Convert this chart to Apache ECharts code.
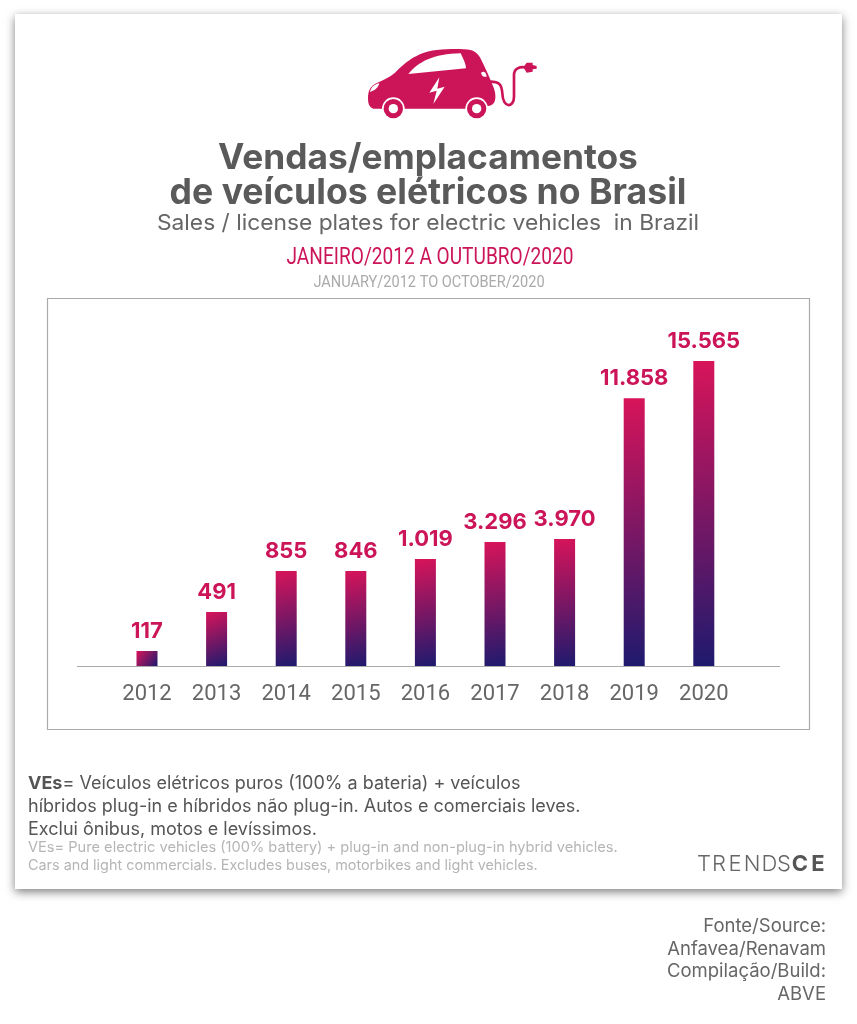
<!DOCTYPE html>
<html>
<head>
<meta charset="utf-8">
<style>
  html, body { margin: 0; padding: 0; background: #fff; }
  #chart { width: 857px; height: 1024px; }
</style>
<script src="https://cdn.jsdelivr.net/npm/echarts@6/dist/echarts.min.js"></script>
</head>
<body>
<div id="chart"></div>
<script>
var years = ['2012', '2013', '2014', '2015', '2016', '2017', '2018', '2019', '2020'];
// what the printed labels say
var salesLabels = ['117', '491', '855', '846', '1.019', '3.296', '3.970', '11.858', '15.565'];
// the bars in the original are not to scale with their labels, so these are
// the heights, in the units of the tallest bar (15.565)
var barValues = [765, 2755, 4850, 4850, 5460, 6325, 6480, 13670, 15565];

var PINK = '#cc1559';
var sansFont = 'Inter';
var narrowFont = 'Roboto';

function text(x, y, str, font, size, color, opt) {
  opt = opt || {};
  return {
    type: 'text',
    x: x,
    y: y,
    scaleX: opt.scaleX || 1,
    z: 5,
    style: {
      text: str,
      fontFamily: font,
      fontSize: size,
      fontWeight: opt.weight || 'normal',
      fill: color,
      align: opt.align || 'center',
      verticalAlign: 'middle',
      rich: opt.rich
    }
  };
}

// car icon, traced in a 3x space
var carShapes = {
  carBody: 'M100 236 C88 232 84 222 84 205 C84 182 90 168 112 158 C130 150 148 142 165 128 C195 100 225 68 290 60 C330 56 370 56 392 60 C410 64 420 80 428 98 C440 122 452 150 460 170 C468 190 468 208 462 218 C456 226 448 228 438 228 L380 236 L190 236 L128 236 Z',
  carWindow: 'M205 132 C235 95 280 72 362 70 C372 90 378 105 378 115 Z',
  carHead: 'M90 186 C92 172 105 162 118 160 C115 172 105 182 90 186 Z',
  carTail: 'M423 128 C432 122 438 125 440 140 C432 142 425 138 423 128 Z',
  carBolt: 'M298 142 L268 188 L290 182 L280 222 L314 170 L292 176 Z',
  carPlug: 'M550 112 L560 98 L578 98 L578 105 L590 108 L590 116 L578 118 L578 125 L560 128 Z',
  carCable: 'M450 155 C480 155 485 165 487 190 C488 235 522 235 522 200 L522 135 C522 115 540 110 555 112'
};
Object.keys(carShapes).forEach(function (name) {
  echarts.graphic.registerShape(name, echarts.graphic.extendPath(carShapes[name]));
});

function carPart(name, style) {
  return {
    type: name,
    x: 340,
    y: 30,
    scaleX: 1 / 3,
    scaleY: 1 / 3,
    z: 4,
    style: style
  };
}

function carWheel(cx) {
  return [
    [34, '#fff'],
    [29, PINK],
    [14, '#fff']
  ].map(function (c) {
    return {
      type: 'circle',
      x: 340,
      y: 30,
      scaleX: 1 / 3,
      scaleY: 1 / 3,
      z: 4,
      shape: { cx: cx, cy: 236, r: c[0] },
      style: { fill: c[1] }
    };
  });
}

var car = [
  carPart('carBody', { fill: PINK }),
  carPart('carWindow', { fill: '#fff' }),
  carPart('carHead', { fill: '#fff' }),
  carPart('carTail', { fill: '#fff' }),
  carPart('carBolt', { fill: '#fff' }),
  carPart('carPlug', { fill: PINK }),
  carPart('carCable', { fill: 'none', stroke: PINK, lineWidth: 8 })
].concat(carWheel(160), carWheel(410));

// logo letters are placed one by one for the wide tracking
var logoThin = [['T', 704], ['R', 719], ['E', 735], ['N', 752], ['D', 769.5], ['S', 784]];
var logoBold = [['C', 800], ['E', 818]];
var logo = logoThin.map(function (l) {
  return text(l[1], 864, l[0], sansFont, 22, '#666', { weight: 300 });
}).concat(logoBold.map(function (l) {
  return text(l[1], 864, l[0], sansFont, 22, '#555', { weight: 'bold' });
}));

var option = {
  animation: false,
  backgroundColor: '#fff',
  grid: { left: 112.2, width: 626.4, top: 361, height: 305 },
  xAxis: {
    type: 'category',
    data: years,
    axisLine: { show: false },
    axisTick: { show: false },
    axisLabel: {
      color: '#666',
      fontFamily: narrowFont,
      fontSize: 22,
      margin: 17
    }
  },
  yAxis: {
    type: 'value',
    min: 0,
    max: 15565,
    show: false
  },
  series: [
    {
      type: 'bar',
      data: barValues,
      barWidth: 21,
      itemStyle: {
        color: {
          type: 'linear',
          x: 0, y: 0, x2: 1, y2: 1,
          colorStops: [
            { offset: 0, color: '#d8145a' },
            { offset: 1, color: '#1e1a6e' }
          ]
        }
      },
      label: {
        show: true,
        position: 'top',
        distance: 9,
        color: PINK,
        fontFamily: sansFont,
        fontWeight: 'bold',
        fontSize: 22,
        formatter: function (p) { return salesLabels[p.dataIndex]; }
      },
      z: 3
    }
  ],
  graphic: [
    {
      type: 'rect',
      shape: { x: 15, y: 14, width: 827, height: 875 },
      style: { fill: '#fff', shadowBlur: 9, shadowOffsetY: 3, shadowColor: 'rgba(0,0,0,0.5)' },
      z: 0
    },
    {
      type: 'rect',
      shape: { x: 47.5, y: 298.5, width: 762, height: 431 },
      style: { fill: 'none', stroke: '#aaa', lineWidth: 1.2 },
      z: 1
    },
    {
      type: 'line',
      shape: { x1: 77, y1: 666.5, x2: 780, y2: 666.5 },
      style: { stroke: '#aaa', lineWidth: 1.2 },
      z: 1
    },
    text(428, 158, 'Vendas/emplacamentos', sansFont, 35.3, '#5a5a5a', { weight: 'bold' }),
    text(428, 193, 'de veículos elétricos no Brasil', sansFont, 35.6, '#5a5a5a', { weight: 'bold' }),
    text(428, 223, 'Sales / license plates for electric vehicles  in Brazil', sansFont, 22, '#666', { scaleX: 1.035 }),
    text(430, 258, 'JANEIRO/2012 A OUTUBRO/2020', narrowFont, 23, PINK, { scaleX: 0.83 }),
    text(429, 283, 'JANUARY/2012 TO OCTOBER/2020', narrowFont, 17, '#aaa', { scaleX: 0.856 }),
    text(28, 784, '{b|VEs}= Veículos elétricos puros (100% a bateria) + veículos', sansFont, 18, '#555', {
      align: 'left',
      rich: { b: { fontFamily: sansFont, fontSize: 18, fontWeight: 'bold', fill: '#555' } }
    }),
    text(28, 807, 'híbridos plug-in e híbridos não plug-in. Autos e comerciais leves.', sansFont, 18, '#555', { align: 'left' }),
    text(28, 830, 'Exclui ônibus, motos e levíssimos.', sansFont, 18, '#555', { align: 'left' }),
    text(28, 848, 'VEs= Pure electric vehicles (100% battery) + plug-in and non-plug-in hybrid vehicles.', sansFont, 14.6, '#b5b5b5', { align: 'left' }),
    text(28, 866, 'Cars and light commercials. Excludes buses, motorbikes and light vehicles.', sansFont, 14.4, '#b5b5b5', { align: 'left' }),
    text(826, 926, 'Fonte/Source:', sansFont, 18.5, '#666', { align: 'right' }),
    text(826, 949, 'Anfavea/Renavam', sansFont, 18.5, '#666', { align: 'right' }),
    text(826, 971, 'Compilação/Build:', sansFont, 18.5, '#666', { align: 'right' }),
    text(826, 994, 'ABVE', sansFont, 18.5, '#666', { align: 'right' })
  ].concat(car, logo)
};

echarts.init(document.getElementById('chart')).setOption(option);
</script>
</body>
</html>
